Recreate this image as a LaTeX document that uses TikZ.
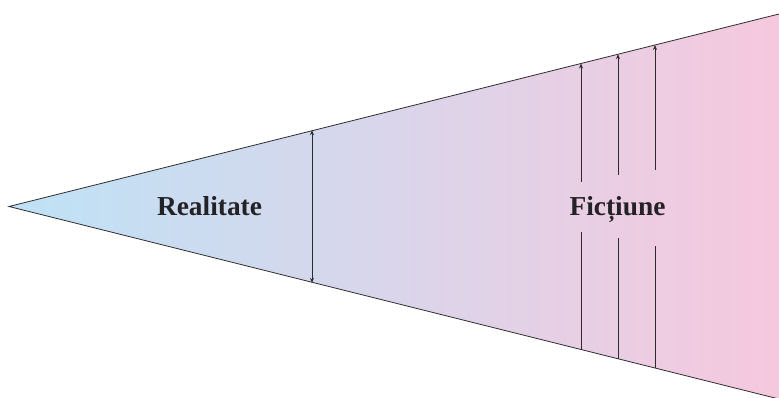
\documentclass[tikz,border=0pt]{standalone}
\usepackage{fontspec}
\setmainfont{Liberation Serif}
\usetikzlibrary{arrows.meta}
\definecolor{leftblue}{RGB}{190,226,246}
\definecolor{rightpink}{RGB}{246,200,222}
\definecolor{linegray}{RGB}{45,42,45}
\tikzset{
  edgeline/.style={draw=linegray, line width=0.8pt},
  measure/.style={draw=linegray, line width=0.7pt, -{Stealth[length=5pt,width=4pt]}},
  measureboth/.style={draw=linegray, line width=0.7pt, {Stealth[length=5pt,width=4pt]}-{Stealth[length=5pt,width=4pt]}},
  plainseg/.style={draw=linegray, line width=0.7pt},
  label/.style={font=\bfseries\fontsize{27.4}{30}\selectfont, text=linegray!80!black, anchor=base, inner sep=0pt}
}
\begin{document}
\begin{tikzpicture}[x=1pt,y=1pt]
\useasboundingbox (0,0) rectangle (779,397);
% wedge corners
\coordinate (apex) at (9,190.5);
\coordinate (tr) at (779,383);
\coordinate (br) at (779,-2);
\shade[left color=leftblue, right color=rightpink] (apex) -- (tr) -- (br) -- cycle;
\draw[edgeline] (tr) -- (apex) -- (br);
% double arrow in Realitate
\coordinate (rt) at (312,266.8);
\coordinate (rb) at (312,114.2);
\draw[measureboth] (rb) -- (rt);
% three arrows in Fictiune
\coordinate (a1t) at (581,333.5);
\coordinate (a1b) at (581,47.5);
\coordinate (a1u) at (581,215);
\coordinate (a1l) at (581,165);
\coordinate (a2t) at (618,342.8);
\coordinate (a2b) at (618,38.3);
\coordinate (a2u) at (618,222);
\coordinate (a2l) at (618,159);
\coordinate (a3t) at (655,352);
\coordinate (a3b) at (655,29);
\coordinate (a3u) at (655,227);
\coordinate (a3l) at (655,151);
\draw[plainseg] (a1b) -- (a1l);
\draw[measure] (a1u) -- (a1t);
\draw[plainseg] (a2b) -- (a2l);
\draw[measure] (a2u) -- (a2t);
\draw[plainseg] (a3b) -- (a3l);
\draw[measure] (a3u) -- (a3t);
% labels
\node[label] (real) at (209.5,182) {Realitate};
\node[label] (fict) at (617.5,182) {Ficțiune};
\end{tikzpicture}
\end{document}
